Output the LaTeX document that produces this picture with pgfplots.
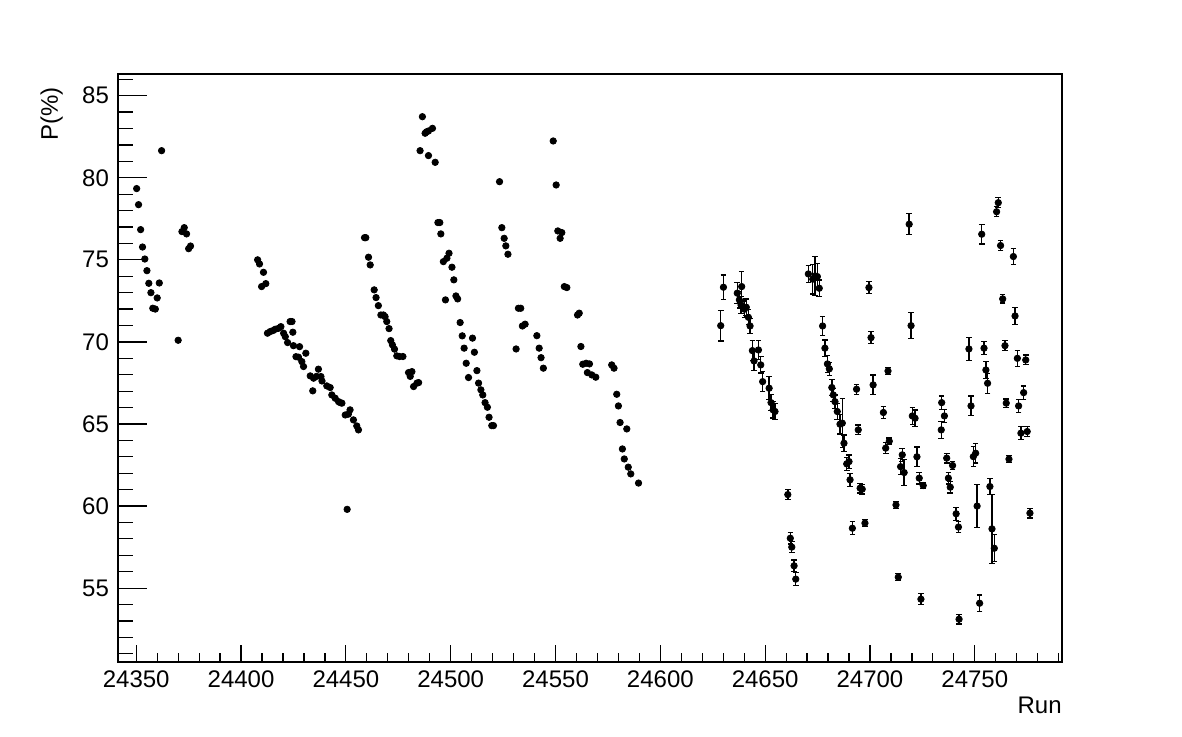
\documentclass[border=0pt]{standalone}
\usepackage{fontspec}
\setmainfont{Liberation Sans}
\usepackage{pgfplots}
\pgfplotsset{compat=1.18}
\usepackage{pgfplotstable}

\pgfplotstableread{
x y
24350.2 79.34
24351.1 78.36
24352.1 76.84
24353.0 75.78
24354.1 75.05
24355.1 74.34
24356.0 73.57
24357.0 73.00
24357.9 72.05
24359.1 72.00
24360.0 72.68
24361.0 73.59
24362.1 81.65
24370.0 70.10
24371.8 76.72
24372.9 76.96
24374.0 76.58
24375.0 75.68
24375.9 75.84
24407.9 75.00
24408.8 74.75
24410.7 74.24
24409.8 73.37
24411.8 73.55
24412.6 70.53
24413.9 70.63
24415.2 70.69
24416.3 70.77
24417.9 70.83
24419.0 70.93
24420.3 70.53
24421.1 70.32
24422.2 69.96
24423.4 71.24
24424.3 71.24
24424.7 70.59
24425.0 69.77
24426.2 69.10
24427.9 69.71
24427.4 69.07
24429.0 68.80
24429.8 68.50
24430.9 69.31
24433.0 67.93
24434.6 67.79
24434.2 67.02
24436.0 67.90
24436.9 68.34
24438.1 67.89
24438.6 67.62
24440.9 67.32
24442.5 67.22
24443.3 66.77
24444.9 66.57
24446.5 66.36
24447.3 66.30
24448.1 66.27
24449.7 65.55
24450.6 59.80
24451.2 65.60
24452.0 65.86
24453.6 65.25
24455.2 64.88
24456.0 64.64
24458.9 76.35
24459.5 76.35
24460.8 75.16
24461.6 74.69
24463.5 73.17
24464.4 72.70
24465.5 72.21
24466.7 71.64
24467.9 71.64
24468.7 71.54
24469.5 71.24
24470.6 70.81
24471.4 70.08
24472.2 69.82
24473.2 69.56
24474.3 69.15
24475.6 69.11
24477.2 69.11
24479.9 68.13
24480.7 67.90
24481.5 68.19
24482.3 67.28
24483.9 67.49
24484.7 67.52
24485.4 81.65
24486.5 83.72
24487.8 82.71
24488.5 82.80
24489.4 82.85
24491.3 83.01
24489.4 81.35
24492.6 80.94
24493.9 77.27
24494.8 77.27
24495.3 76.58
24496.5 74.89
24497.5 72.56
24498.2 75.10
24499.2 75.40
24500.6 74.55
24501.5 73.78
24502.5 72.80
24503.3 72.62
24504.5 71.18
24505.5 70.37
24506.4 69.62
24507.4 68.70
24508.5 67.83
24510.4 70.23
24511.3 69.37
24512.5 68.25
24513.3 67.49
24514.4 67.08
24515.3 66.77
24516.4 66.30
24517.5 66.02
24518.3 65.41
24519.6 64.90
24520.4 64.90
24523.3 79.76
24524.4 76.96
24525.5 76.31
24526.3 75.85
24527.3 75.34
24531.2 69.57
24532.3 72.05
24533.4 72.05
24534.2 70.97
24535.5 71.08
24541.1 70.38
24542.2 69.62
24543.1 69.04
24544.2 68.40
24548.9 82.24
24550.3 79.56
24551.1 76.76
24552.2 76.31
24553.0 76.66
24554.2 73.37
24555.4 73.31
24560.5 71.64
24561.3 71.75
24562.1 69.72
24563.0 68.64
24564.6 68.70
24566.2 68.66
24565.2 68.13
24567.3 67.99
24569.2 67.85
24576.8 68.60
24577.9 68.40
24579.2 66.81
24580.0 66.10
24580.8 65.09
24584.0 64.70
24581.9 63.48
24582.8 62.87
24584.7 62.37
24585.9 61.96
24589.6 61.40
}\early

\pgfplotstableread{
x y e
24628.8 70.99 0.94
24630.1 73.33 0.74
24636.7 72.97 0.63
24637.7 72.56 0.50
24638.5 72.25 0.50
24638.8 73.37 0.91
24640.1 71.99 0.50
24641.0 72.11 0.50
24642.0 71.50 0.45
24642.8 70.97 0.45
24643.9 69.47 0.60
24644.7 68.84 0.60
24646.8 69.51 0.60
24647.9 68.60 0.50
24648.8 67.58 0.60
24651.9 67.18 0.70
24652.8 66.30 0.50
24653.8 65.86 0.50
24654.7 65.76 0.50
24660.8 60.70 0.30
24662.0 58.04 0.35
24662.7 57.50 0.35
24663.8 56.36 0.35
24664.6 55.55 0.40
24670.6 74.14 0.50
24672.7 73.82 0.90
24673.8 74.02 1.20
24674.9 73.98 0.80
24675.8 73.27 0.50
24677.4 70.97 0.59
24678.5 69.62 0.50
24679.7 68.66 0.50
24680.6 68.36 0.40
24681.8 67.22 0.50
24682.5 66.77 0.40
24683.3 66.36 0.40
24684.4 65.76 0.50
24685.7 64.99 0.60
24686.8 65.05 1.50
24687.6 63.83 0.50
24688.9 62.57 0.40
24690.0 62.71 0.40
24690.5 61.60 0.40
24691.6 58.65 0.40
24693.6 67.12 0.30
24694.4 64.64 0.30
24695.3 61.09 0.30
24696.3 61.03 0.30
24697.6 58.96 0.20
24699.5 73.31 0.35
24700.5 70.26 0.35
24701.5 67.38 0.60
24706.4 65.70 0.35
24707.5 63.53 0.35
24708.6 68.23 0.20
24709.2 63.95 0.20
24712.4 60.07 0.20
24713.5 55.67 0.20
24714.6 62.40 0.50
24715.4 63.12 0.40
24716.3 62.04 0.80
24718.7 77.17 0.64
24719.6 70.99 0.78
24720.2 65.49 0.50
24721.5 65.35 0.50
24722.4 63.00 0.60
24723.5 61.70 0.35
24724.3 54.33 0.35
24725.4 61.25 0.20
24734.0 64.64 0.50
24734.2 66.30 0.40
24735.5 65.49 0.40
24736.6 62.92 0.30
24737.4 61.70 0.35
24738.3 61.15 0.35
24739.4 62.47 0.25
24741.1 59.53 0.40
24742.2 58.72 0.35
24742.5 53.11 0.30
24747.2 69.57 0.70
24748.2 66.10 0.60
24749.3 63.01 0.60
24750.4 63.22 0.60
24751.1 60.00 1.30
24752.3 54.08 0.50
24753.3 76.56 0.60
24754.4 69.62 0.40
24755.3 68.29 0.50
24756.1 67.48 0.60
24757.2 61.19 0.50
24758.2 58.61 2.10
24759.3 57.43 0.83
24760.4 77.93 0.30
24761.2 78.48 0.30
24762.3 75.87 0.30
24763.3 72.62 0.25
24764.4 69.77 0.30
24765.0 66.27 0.25
24766.3 62.86 0.20
24768.4 75.20 0.50
24769.2 71.58 0.50
24770.3 69.00 0.50
24770.9 66.10 0.40
24772.0 64.44 0.40
24773.3 66.91 0.40
24774.3 68.90 0.30
24775.0 64.54 0.30
24776.3 59.57 0.30
}\late

\begin{document}
\begin{tikzpicture}
\path[use as bounding box] (-59pt,-37pt) rectangle (532pt,331pt);
\begin{axis}[
  scale only axis, width=472pt, height=294pt,
  at={(0,0)}, anchor=south west,
  xmin=24341.3, xmax=24791.6, ymin=50.5, ymax=86.32,
  axis line style={line width=0.7pt, black},
  tick align=inside, xtick pos=bottom, ytick pos=left,
  xtick={24350,24400,...,24750},
  minor xtick={24350,24360,...,24790},
  ytick={55,60,...,85},
  minor ytick={51,52,...,86},
  major tick length=14.5pt, minor tick length=7.3pt,
  every major x tick/.append style={/pgfplots/major tick length=8.5pt},
  every minor x tick/.append style={/pgfplots/minor tick length=4.5pt},
  tick style={line width=0.6pt, black},
  scaled ticks=false,
  xticklabel={\pgfmathprintnumber[fixed,precision=0,1000 sep={}]{\tick}},
  /pgf/number format/1000 sep={},
  /pgf/number format/assume math mode=true,
  tick label style={font=\fontsize{12}{14}\selectfont},
  xticklabel style={yshift=-1pt},
  yticklabel style={xshift=-1pt},
  label style={font=\fontsize{12}{14}\selectfont},
  xlabel={Run},
  x label style={at={(axis description cs:1,0)}, anchor=north east, inner sep=0pt, yshift=-17.5pt},
  ylabel={P(\%)},
  y label style={at={(axis description cs:-0.058,0.978)}, anchor=south east, inner sep=0pt},
  clip=true,
]
\addplot[only marks, mark=*, mark size=1.6pt, mark options={fill=black, draw=black}]
  table[x=x, y=y] {\early};
\addplot[only marks, mark=*, mark size=1.6pt, mark options={fill=black, draw=black},
  error bars/.cd, y dir=both, y explicit,
  error bar style={line width=0.7pt, black},
  error mark options={black, mark size=1.4pt, line width=0.6pt, rotate=90}]
  table[x=x, y=y, y error=e] {\late};
\end{axis}
\end{tikzpicture}
\end{document}
